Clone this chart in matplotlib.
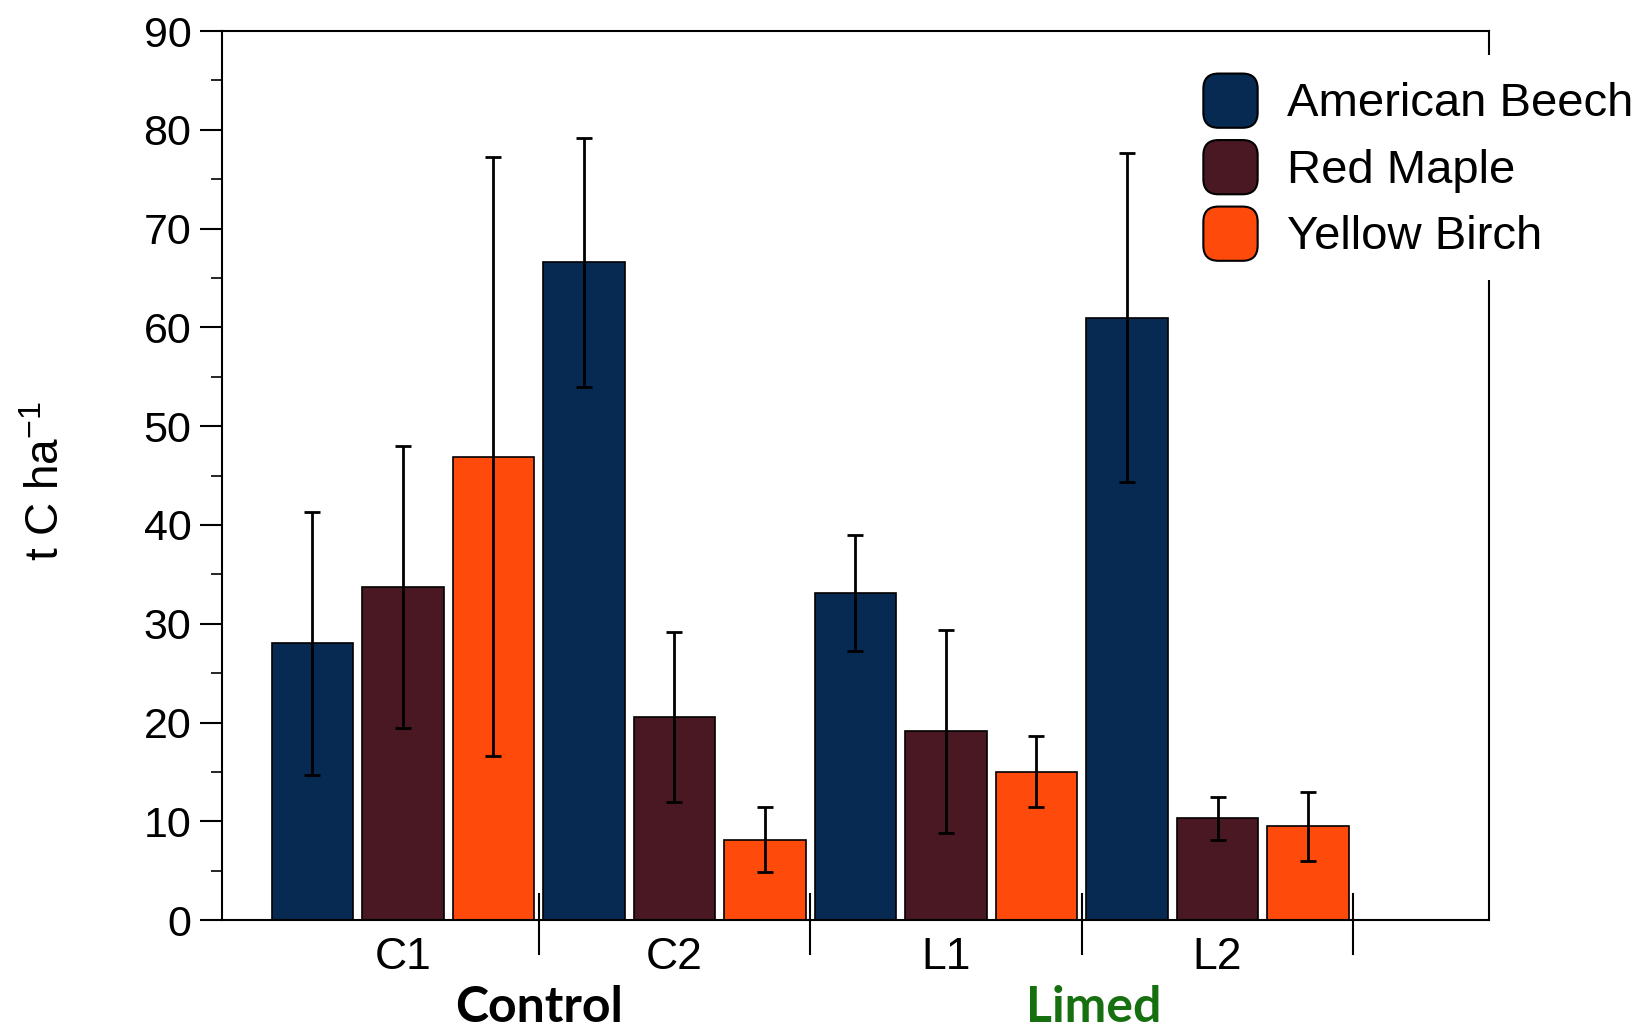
import numpy as np
import matplotlib.pyplot as plt
import matplotlib.patches as mpatches
import matplotlib.transforms as mtransforms
from matplotlib.legend_handler import HandlerPatch
from matplotlib.patches import FancyBboxPatch

plt.rcParams['font.family'] = ['Liberation Sans', 'DejaVu Sans']

sites = ['C1', 'C2', 'L1', 'L2']
species = ['American Beech', 'Red Maple', 'Yellow Birch']
colors = ['#062a52', '#4a1822', '#fe4a0a']

beech = [28.0, 66.6, 33.1, 61.0]
beech_err = [13.3, 12.6, 5.9, 16.7]
maple = [33.7, 20.6, 19.1, 10.3]
maple_err = [14.3, 8.6, 10.3, 2.2]
birch = [46.9, 8.15, 15.0, 9.5]
birch_err = [30.3, 3.3, 3.6, 3.5]

values = [beech, maple, birch]
errors = [beech_err, maple_err, birch_err]


class RoundBox(HandlerPatch):
    def create_artists(self, legend, orig, xd, yd, w, h, fs, trans):
        p = FancyBboxPatch((-xd, -yd), w, h,
                           boxstyle='round,pad=0,rounding_size=%f' % (0.28 * h),
                           facecolor=orig.get_facecolor(), edgecolor='black',
                           lw=1.5, transform=trans)
        return [p]


fig = plt.figure(figsize=(16.39, 10.28), dpi=100)
ax = fig.add_axes([0.1354, 0.105, 0.9085 - 0.1354, 0.9698 - 0.105])

for s in range(3):
    x = np.arange(len(sites)) * 3 + s
    ax.bar(x, values[s], width=0.9, color=colors[s], edgecolor='black', linewidth=1.2, zorder=2)
    ax.errorbar(x, values[s], yerr=errors[s], fmt='none', ecolor='black',
                elinewidth=2, capsize=6, capthick=2, zorder=3)

ax.set_xlim(-1, 13)
ax.set_ylim(0, 90)
ax.set_yticks(np.arange(0, 91, 10))
ax.set_yticks(np.arange(5, 90, 10), minor=True)
ax.tick_params(axis='y', which='major', length=16, width=1.5, labelsize=31, pad=6)
ax.tick_params(axis='y', which='minor', length=8, width=1.2)
ax.set_xticks([1, 4, 7, 10])
ax.set_xticklabels(sites)
ax.tick_params(axis='x', length=0, labelsize=32, pad=12)
for sp in ax.spines.values():
    sp.set_linewidth(1.5)

# group separators
trans = mtransforms.blended_transform_factory(ax.transData, ax.transAxes)
for xs in [2.5, 5.5, 8.5, 11.5]:
    ax.plot([xs, xs], [-0.038, 0.029], color='black', lw=1.5, transform=trans, clip_on=False, zorder=4)

ax.text(2.5, -0.098, 'Control', transform=trans, ha='center', va='center',
        fontsize=36, fontweight='bold', family=['Lato', 'DejaVu Sans'], color='black')
ax.text(8.63, -0.098, 'Limed', transform=trans, ha='center', va='center',
        fontsize=36, fontweight='bold', family=['Lato', 'DejaVu Sans'], color='#17700f')

fig.text(0.0287, 0.532, 't C ha$^{\\mathregular{-1}}$', rotation=90, ha='center', va='center', fontsize=33)

handles = [mpatches.Patch(facecolor=c) for c in colors]
leg = ax.legend(handles, species, loc='upper left', bbox_to_anchor=(0.741, 1.0),
                fontsize=34, frameon=True, fancybox=False, borderpad=0.4,
                handlelength=1.15, handleheight=1.39, handletextpad=0.62, labelspacing=0.26,
                handler_map={mpatches.Patch: RoundBox()})
leg.get_frame().set_facecolor('white')
leg.get_frame().set_edgecolor('none')
leg.get_frame().set_alpha(1)

fig.savefig('out.png', dpi=100)
